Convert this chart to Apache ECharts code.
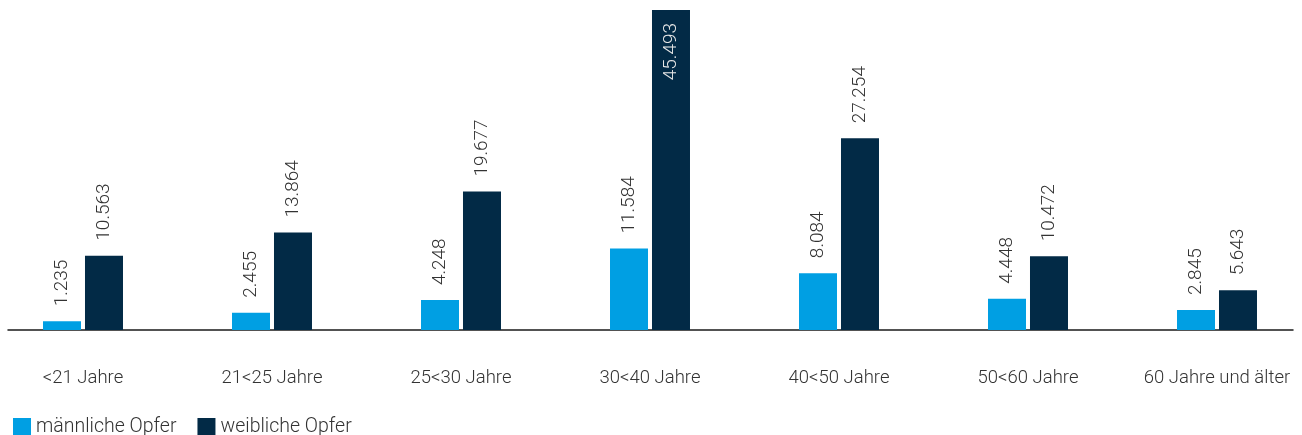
<!DOCTYPE html>
<html>
<head>
<meta charset="utf-8">
<script src="https://cdn.jsdelivr.net/npm/echarts@6/dist/echarts.min.js"></script>
<style>
  html, body { margin: 0; padding: 0; background: #fff; }
  #chart { width: 1302px; height: 435px; }
</style>
</head>
<body>
<div id="chart"></div>
<script>
// Altersgruppen
const categories = ['<21 Jahre', '21<25 Jahre', '25<30 Jahre', '30<40 Jahre', '40<50 Jahre', '50<60 Jahre', '60 Jahre und älter'];
const maleVictims = [1235, 2455, 4248, 11584, 8084, 4448, 2845];
const femaleVictims = [10563, 13864, 19677, 45493, 27254, 10472, 5643];

const seriesNames = ['männliche Opfer', 'weibliche Opfer'];
const colors = ['#009fe3', '#022a46'];
const font = 'Roboto';

const fmt = v => v.toLocaleString('de-DE');

const topLabel = {
	show: true,
	position: 'top',
	rotate: 90,
	align: 'left',
	verticalAlign: 'middle',
	distance: 15,
	fontFamily: font,
	fontWeight: 300,
	fontSize: 19,
	color: '#333',
	formatter: p => fmt(p.value)
};

const maxFemale = Math.max(...femaleVictims);

const chart = echarts.init(document.getElementById('chart'), null, { renderer: 'canvas' });

chart.setOption({
	animation: false,
	color: colors,
	legend: {
		data: seriesNames,
		left: 8,
		top: 412,
		itemWidth: 18,
		itemHeight: 18,
		itemGap: 21,
		icon: 'rect',
		textStyle: { fontFamily: font, fontSize: 19.5, color: '#333', fontWeight: 300 }
	},
	grid: [
		{ left: -11.5, right: -9.5, top: 10, height: 320, outerBoundsMode: 'none', containLabel: false },
		{ left: 8, right: 9, top: 10, height: 320 }
	],
	xAxis: [
		{
			type: 'category',
			data: categories,
			gridIndex: 0,
			axisLine: { show: false },
			axisTick: { show: false },
			axisLabel: {
				margin: 39,
				fontFamily: font,
				fontSize: 18.5,
				fontWeight: 300,
				color: '#333',
				interval: 0
			}
		},
		{
			type: 'category',
			data: categories,
			gridIndex: 1,
			axisLine: { show: true, lineStyle: { color: '#1a1a1a', width: 1.5 } },
			axisTick: { show: false },
			axisLabel: { show: false }
		}
	],
	yAxis: [
		{ type: 'value', gridIndex: 0, min: 0, max: maxFemale, show: false, splitLine: { show: false } },
		{ type: 'value', gridIndex: 1, min: 0, max: maxFemale, show: false, splitLine: { show: false } }
	],
	series: [
		{
			name: seriesNames[0],
			type: 'bar',
			xAxisIndex: 0,
			yAxisIndex: 0,
			barWidth: 38,
			barGap: '10.5%',
			data: maleVictims,
			label: topLabel
		},
		{
			name: seriesNames[1],
			type: 'bar',
			xAxisIndex: 0,
			yAxisIndex: 0,
			barWidth: 38,
			data: femaleVictims.map(v => v === maxFemale ? {
				value: v,
				label: { position: 'insideTop', align: 'right', distance: 13, color: '#e6e6e6' }
			} : v),
			label: topLabel
		}
	]
});
</script>
</body>
</html>
